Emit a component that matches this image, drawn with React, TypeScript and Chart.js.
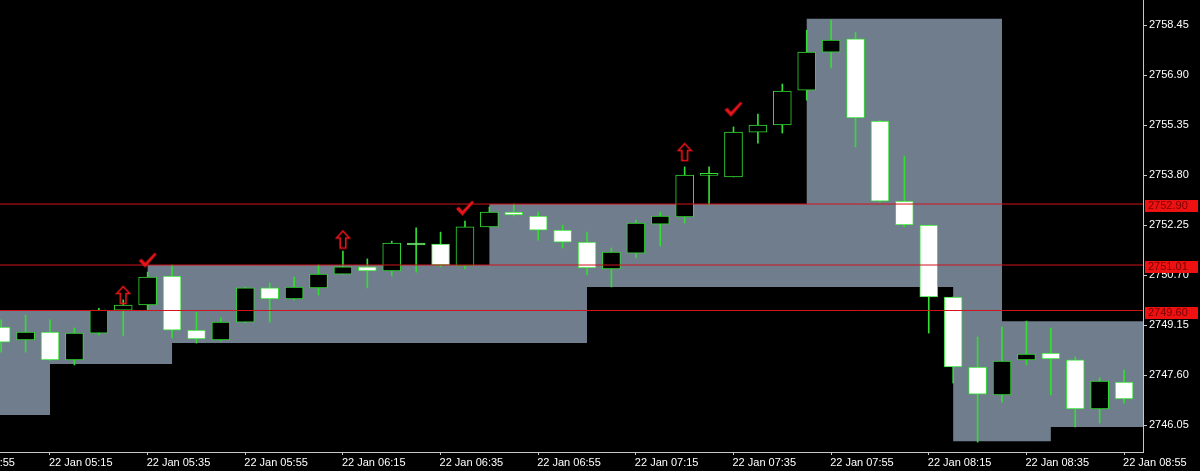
import { useEffect, useRef } from "react";
import { Chart, registerables } from "chart.js";

Chart.register(...registerables);

// ---- data ----
const times = [
  "05:05", "05:10", "05:15", "05:20", "05:25", "05:30", "05:35", "05:40", "05:45", "05:50",
  "05:55", "06:00", "06:05", "06:10", "06:15", "06:20", "06:25", "06:30", "06:35", "06:40",
  "06:45", "06:50", "06:55", "07:00", "07:05", "07:10", "07:15", "07:20", "07:25", "07:30",
  "07:35", "07:40", "07:45", "07:50", "07:55", "08:00", "08:05", "08:10", "08:15", "08:20",
  "08:25", "08:30", "08:35", "08:40", "08:45", "08:50", "08:55",
];

const openP = [
  2749.09, 2748.69, 2748.93, 2748.07, 2748.90, 2749.61, 2749.77, 2750.67, 2748.99, 2748.69,
  2749.24, 2750.30, 2749.96, 2750.30, 2750.73, 2750.95, 2750.83, 2751.69, 2751.66, 2750.98,
  2752.19, 2752.65, 2752.53, 2752.09, 2751.72, 2750.89, 2751.38, 2752.28, 2752.50, 2753.79,
  2753.74, 2755.13, 2755.35, 2756.43, 2757.61, 2758.02, 2755.47, 2752.99, 2752.25, 2750.02,
  2747.85, 2746.98, 2748.07, 2748.28, 2748.07, 2746.55, 2747.38,
];
const highP = [
  2749.31, 2749.46, 2749.31, 2749.06, 2749.67, 2749.93, 2750.79, 2751.01, 2749.55, 2749.37,
  2750.33, 2750.45, 2750.64, 2751.01, 2751.44, 2751.20, 2751.75, 2752.16, 2752.03, 2752.37,
  2752.81, 2752.90, 2752.65, 2752.25, 2752.03, 2751.54, 2752.40, 2752.65, 2754.05, 2754.05,
  2755.29, 2755.69, 2756.62, 2758.29, 2758.60, 2758.23, 2755.50, 2754.39, 2752.25, 2750.02,
  2748.78, 2749.09, 2749.27, 2749.06, 2748.16, 2747.51, 2747.75,
];
const lowP = [
  2748.31, 2748.31, 2748.05, 2747.91, 2748.84, 2748.81, 2749.61, 2748.75, 2748.59, 2748.65,
  2749.22, 2749.24, 2749.93, 2750.08, 2750.73, 2750.30, 2750.67, 2750.79, 2750.95, 2750.89,
  2752.19, 2752.53, 2751.78, 2751.54, 2750.70, 2750.33, 2751.23, 2751.60, 2752.31, 2752.87,
  2753.74, 2754.79, 2755.10, 2756.12, 2757.12, 2754.67, 2752.96, 2752.19, 2748.90, 2747.35,
  2745.52, 2746.76, 2747.91, 2746.98, 2745.99, 2746.11, 2746.73,
];
const closeP = [
  2748.62, 2748.93, 2748.07, 2748.90, 2749.61, 2749.77, 2750.64, 2748.99, 2748.72, 2749.24,
  2750.30, 2749.96, 2750.33, 2750.73, 2750.95, 2750.83, 2751.69, 2751.63, 2751.01, 2752.19,
  2752.65, 2752.56, 2752.09, 2751.72, 2750.92, 2751.41, 2752.31, 2752.53, 2753.80, 2753.80,
  2755.13, 2755.35, 2756.40, 2757.61, 2757.98, 2755.57, 2752.99, 2752.25, 2750.02, 2747.85,
  2747.01, 2748.03, 2748.25, 2748.10, 2746.55, 2747.41, 2746.86,
];

// grey range zone (value holds from this candle index to the next step)
const zoneIdx = [-1, 2, 6, 7, 20, 24, 33, 39, 41, 43, 48];
const zoneTop = [2749.60, 2749.60, 2751.01, 2751.01, 2752.90, 2752.90, 2758.64, 2758.64, 2749.27, 2749.27, 2749.27];
const zoneBottom = [2746.36, 2747.94, 2747.94, 2748.59, 2748.59, 2750.33, 2750.33, 2745.55, 2745.55, 2745.99, 2745.99];

// horizontal price levels
const levels = [2752.90, 2751.01, 2749.60];

// signal markers
const arrowIdx = [5, 14, 28];
const arrowPrice = [2750.08, 2751.80, 2754.51];
const checkIdx = [6, 19, 30];
const checkPrice = [2751.16, 2752.77, 2755.84];

// axes
const yTicks = [2746.05, 2747.60, 2749.15, 2750.70, 2752.25, 2753.80, 2755.35, 2756.90, 2758.45];
const xTickIdx = [-2, 2, 6, 10, 14, 18, 22, 26, 30, 34, 38, 42, 46];
const xTickLabels = [
  "22 Jan 04:55", "22 Jan 05:15", "22 Jan 05:35", "22 Jan 05:55", "22 Jan 06:15", "22 Jan 06:35",
  "22 Jan 06:55", "22 Jan 07:15", "22 Jan 07:35", "22 Jan 07:55", "22 Jan 08:15", "22 Jan 08:35",
  "22 Jan 08:55",
];

const X_MIN = -0.0483;
const X_MAX = 46.776;
const Y_MIN = 2745.214;
const Y_MAX = 2759.225;

const GREEN = "#33dd33";
const AXIS = "#c8c8c8";
const FONT = { family: "'Liberation Sans', Arial, sans-serif", size: 11 };

function makeArrow(): HTMLCanvasElement {
  const c = document.createElement("canvas");
  c.width = 16;
  c.height = 20;
  const g = c.getContext("2d")!;
  g.strokeStyle = "#e8141a";
  g.lineWidth = 1.6;
  g.beginPath();
  g.moveTo(8, 1.5);
  g.lineTo(14.5, 8.5);
  g.lineTo(10.8, 8.5);
  g.lineTo(10.8, 18.5);
  g.lineTo(5.2, 18.5);
  g.lineTo(5.2, 8.5);
  g.lineTo(1.5, 8.5);
  g.closePath();
  g.stroke();
  return c;
}

function makeCheck(): HTMLCanvasElement {
  const c = document.createElement("canvas");
  c.width = 20;
  c.height = 17;
  const g = c.getContext("2d")!;
  g.fillStyle = "#e8141a";
  g.beginPath();
  g.moveTo(1, 9);
  g.lineTo(4, 7);
  g.lineTo(7.5, 11);
  g.lineTo(17, 1);
  g.lineTo(19, 2.5);
  g.lineTo(7.5, 16);
  g.closePath();
  g.fill();
  return c;
}

const bgPlugin = {
  id: "bgBlack",
  beforeDraw(chart: any) {
    const ctx = chart.ctx;
    ctx.save();
    ctx.fillStyle = "#000000";
    ctx.fillRect(0, 0, chart.width, chart.height);
    ctx.restore();
  },
};

const levelTags = {
  id: "levelTags",
  afterDraw(chart: any) {
    const y = chart.scales.y;
    const ctx = chart.ctx;
    ctx.save();
    ctx.font = "11px 'Liberation Sans', Arial, sans-serif";
    ctx.textBaseline = "middle";
    ctx.textAlign = "left";
    levels.forEach((v) => {
      const py = Math.round(y.getPixelForValue(v));
      ctx.fillStyle = "#ee1111";
      ctx.fillRect(y.left + 2, py - 4, 53, 12);
      ctx.fillStyle = "#7a0000";
      ctx.fillText(v.toFixed(2), y.left + 5, py + 2);
    });
    ctx.restore();
  },
};

export default function App() {
  const ref = useRef<HTMLCanvasElement | null>(null);

  useEffect(() => {
    document.body.style.margin = "0";
    document.body.style.background = "#000";
    if (!ref.current) return;
    const idx = times.map((_, i) => i);

    const chart = new Chart(ref.current, {
      type: "bar",
      data: {
        datasets: [
          {
            type: "line",
            data: zoneIdx.map((x, k) => ({ x, y: zoneBottom[k] })),
            stepped: "before",
            borderColor: "rgba(0,0,0,0)",
            borderWidth: 0,
            pointRadius: 0,
            fill: false,
            order: 10,
          } as any,
          {
            type: "line",
            data: zoneIdx.map((x, k) => ({ x, y: zoneTop[k] })),
            stepped: "before",
            borderColor: "rgba(0,0,0,0)",
            borderWidth: 0,
            pointRadius: 0,
            backgroundColor: "#6f7d8c",
            fill: "-1",
            order: 9,
          } as any,
          {
            type: "bar",
            data: idx.map((i) => ({ x: i, y: [lowP[i], highP[i]] })),
            backgroundColor: GREEN,
            borderWidth: 0,
            barThickness: 1,
            grouped: false,
            order: 4,
          } as any,
          {
            type: "bar",
            data: idx.map((i) => ({ x: i, y: [openP[i], closeP[i]] })),
            backgroundColor: idx.map((i) => (closeP[i] < openP[i] ? "#ffffff" : "#000000")),
            borderColor: GREEN,
            borderWidth: 1,
            borderSkipped: false,
            barThickness: 18,
            minBarLength: 2,
            grouped: false,
            order: 3,
          } as any,
          ...levels.map(
            (v) =>
              ({
                type: "line",
                data: [
                  { x: -2, y: v },
                  { x: 49, y: v },
                ],
                borderColor: "#d0141c",
                borderWidth: 1,
                pointRadius: 0,
                fill: false,
                order: 2,
              }) as any
          ),
          {
            type: "line",
            data: arrowIdx.map((x, k) => ({ x, y: arrowPrice[k] })),
            showLine: false,
            pointStyle: makeArrow(),
            pointRadius: 5,
            order: 1,
          } as any,
          {
            type: "line",
            data: checkIdx.map((x, k) => ({ x, y: checkPrice[k] })),
            showLine: false,
            pointStyle: makeCheck(),
            pointRadius: 5,
            order: 1,
          } as any,
        ],
      },
      options: {
        responsive: false,
        animation: false,
        devicePixelRatio: 1,
        events: [],
        layout: { padding: 0, autoPadding: false },
        plugins: {
          legend: { display: false },
          tooltip: { enabled: false },
        },
        scales: {
          x: {
            type: "linear",
            min: X_MIN,
            max: X_MAX,
            offset: false,
            afterBuildTicks: (s: any) => {
              s.ticks = xTickIdx.map((v) => ({ value: v }));
            },
            afterFit: (s: any) => {
              s.height = 19;
              s.paddingLeft = 0;
              s.paddingRight = 0;
            },
            ticks: {
              autoSkip: false,
              maxRotation: 0,
              minRotation: 0,
              align: "start",
              labelOffset: -1,
              padding: 1,
              color: "#ffffff",
              font: FONT,
              callback: (_v: any, i: number) => xTickLabels[i],
            },
            grid: {
              drawOnChartArea: false,
              drawTicks: true,
              tickLength: 3,
              color: AXIS,
              offset: false,
            },
            border: { display: true, color: AXIS, width: 1 },
          },
          y: {
            type: "linear",
            position: "right",
            min: Y_MIN,
            max: Y_MAX,
            beginAtZero: false,
            afterBuildTicks: (s: any) => {
              s.ticks = yTicks.map((v) => ({ value: v }));
            },
            afterFit: (s: any) => {
              s.width = 57;
              s.paddingTop = 0;
              s.paddingBottom = 0;
            },
            ticks: {
              autoSkip: false,
              padding: 2,
              color: "#ffffff",
              font: FONT,
              callback: (v: any) => Number(v).toFixed(2),
            },
            grid: {
              drawOnChartArea: false,
              drawTicks: true,
              tickLength: 4,
              color: AXIS,
            },
            border: { display: true, color: AXIS, width: 1 },
          },
        },
      } as any,
      plugins: [bgPlugin, levelTags],
    });

    return () => chart.destroy();
  }, []);

  return (
    <div style={{ width: 1200, height: 471, background: "#000" }}>
      <canvas ref={ref} width={1200} height={471} style={{ display: "block" }} />
    </div>
  );
}
